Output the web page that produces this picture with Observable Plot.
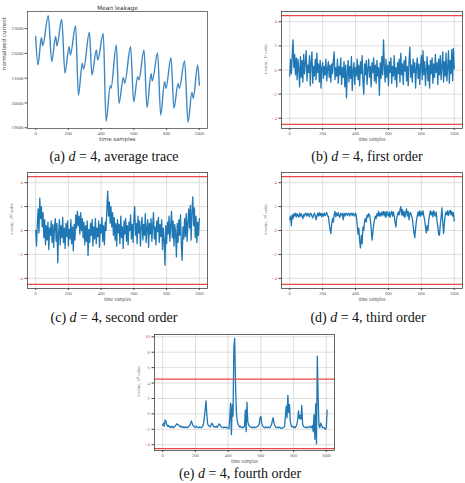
<!DOCTYPE html>
<html><head><meta charset="utf-8">
<script src="https://cdn.jsdelivr.net/npm/d3@7"></script>
<script src="https://cdn.jsdelivr.net/npm/@observablehq/plot@0.6"></script>
<style>
html,body{margin:0;padding:0;background:#fff;}
#fig{position:relative;width:465px;height:483px;overflow:hidden;background:#fff;}
.cap{position:absolute;width:240px;text-align:center;font-family:"Liberation Serif","DejaVu Serif",serif;font-size:14px;line-height:16px;color:#111;white-space:nowrap;}
</style></head><body><div id="fig"></div>
<script>
// ---------- data ----------
const xTicks = [0, 200, 400, 600, 800, 1000];
const tTicks = [-4, -2, 0, 2, 4];
const eTicks = [-4, -2, 0, 2, 4, 6, 8, 10];
const aTicks = [19000, 20000, 21000, 22000, 23000];
const thresholds = [4.5, -4.5];
const step = 5; // sample spacing of the t-value series below

// (a) mean leakage: extrema of the averaged trace
const aSamples = [0,14,35,43,77,98,122,130,159,179,204,212,244,261,285,293,328,344,371,379,413,430,456,460,493,509,536,544,580,599,623,631,662,680,705,713,745,764,788,796,827,845,870,878,910,931,955,963,990,1000];
const aCurrent = [22680,21530,22640,22310,23525,21670,22680,22310,23380,21200,22270,21940,23120,20320,21600,21360,22850,21130,22140,21730,22800,19270,20700,20590,22340,19980,21030,20790,22270,20050,21060,20930,22140,19810,21180,20890,22030,19510,20860,20590,21830,19780,20790,20590,21710,19220,20430,20190,21520,20720];

// (b) first order t-values
const tFirst = [-0.5,0.9,-0.3,1.2,2.5,0.2,1.3,-0.4,1.0,-0.8,0.9,0.1,-1.4,1.1,-0.6,0.8,-1.0,1.3,-0.3,0.6,
1.6,-0.9,0.4,-0.2,1.2,-1.3,0.7,1.5,-1.1,0.3,-0.5,0.9,-0.8,1.4,-0.2,0.5,-1.0,0.8,-1.5,0.2,
0.6,-0.7,0.3,-0.4,0.9,-0.9,0.1,0.7,-0.6,0.4,-1.0,0.5,-0.3,0.8,1.5,-0.8,0.2,-0.5,0.9,-1.1,
0.3,-0.4,1.0,-1.2,0.2,-0.6,0.7,-1.4,0.4,-2.3,-0.2,0.8,-1.0,0.3,-0.7,1.1,-1.7,0.0,0.6,-1.2,
0.2,-0.5,0.9,-0.8,0.4,-1.3,0.7,-0.3,1.2,-1.0,-2.0,0.5,-0.4,0.8,-1.2,0.1,0.9,-0.6,0.3,-1.4,
0.6,-0.2,1.0,-0.9,0.4,-1.1,0.8,-0.5,0.2,-2.1,0.6,-0.7,1.1,-0.4,2.5,0.3,-1.0,0.9,-0.6,0.4,
-1.3,0.7,-0.2,1.0,-1.1,0.3,-0.5,1.2,-0.8,0.2,-1.4,0.6,-0.3,0.9,-1.0,1.4,-0.4,0.5,-1.2,0.8,
-0.1,1.1,-0.9,0.3,-1.3,0.7,1.9,-0.6,0.4,-1.0,0.9,-0.2,0.6,-1.5,0.2,1.0,-0.7,0.5,-1.2,0.3,
1.2,-0.8,1.6,-0.4,0.7,-1.3,0.1,1.1,-0.9,0.4,-1.5,0.8,-0.3,1.0,-1.1,0.5,-0.6,1.3,-0.2,0.6,
-1.2,0.9,-0.4,1.2,-0.8,0.3,1.5,-1.0,0.7,-0.5,1.4,-0.9,0.2,1.6,-1.1,0.8,-0.3,1.7,-0.9,1.8,0.1];

// (c) second order t-values
const tSecond = [0.0,-1.3,0.5,1.8,-0.2,2.7,1.0,2.0,0.3,1.5,-0.6,0.9,-1.2,0.4,-0.8,0.7,-1.6,0.2,-0.4,0.8,
-1.0,0.5,-1.4,0.3,1.0,-0.9,0.6,-2.7,-0.3,0.9,-1.2,0.4,-0.6,1.1,-1.0,0.2,-1.5,0.6,-0.5,0.8,
-1.3,0.1,-0.7,0.9,-1.1,0.3,-1.7,0.5,-0.8,1.3,0.2,1.6,0.4,1.2,-0.3,1.5,0.0,1.0,-0.6,0.7,
-1.2,0.4,-0.9,0.8,-2.1,0.1,-1.0,0.6,-0.4,0.9,-1.3,0.3,-0.7,1.0,-1.1,0.2,-0.5,0.8,-1.4,0.5,
-0.2,1.1,-0.9,0.4,-1.2,0.7,0.0,1.8,3.3,1.2,2.4,0.6,2.0,0.3,1.5,-0.4,1.1,-0.8,0.6,-1.3,
0.9,-0.2,0.5,-1.1,1.2,-0.6,0.3,-1.5,0.8,-0.3,1.0,-0.9,0.4,-1.2,0.7,0.0,1.3,-0.7,0.5,-1.0,
0.9,2.0,-0.4,0.6,-1.1,1.2,-0.2,0.8,-1.3,0.3,1.1,-0.8,0.5,-0.4,1.4,-1.0,0.2,0.9,-1.4,0.6,
-0.3,1.0,-0.9,0.4,1.5,-0.7,0.3,-1.2,0.8,-0.1,1.1,-1.0,0.5,-0.5,0.9,-1.6,0.2,-0.8,-2.9,0.4,
-1.1,0.7,-0.3,1.2,-0.9,0.4,1.6,-0.6,0.8,-1.3,0.5,-0.2,-2.2,0.6,-1.0,0.9,-0.4,1.3,-1.2,-2.5,
0.3,-0.7,1.0,-0.5,1.4,-0.9,0.6,1.8,0.2,2.1,-0.8,1.6,2.8,0.4,1.9,-0.6,1.2,-1.0,0.7,-0.4,1.0];

// (d) third order t-values
const tThird = [0.9,1.2,0.4,1.3,1.0,1.4,1.2,1.45,1.15,1.4,1.25,1.1,1.45,1.2,1.4,1.15,1.0,1.35,1.2,1.45,
1.4,1.2,1.45,1.3,1.15,1.45,1.4,1.2,1.05,1.3,1.45,1.25,0.9,1.2,1.45,1.2,1.5,1.25,1.45,1.15,
1.4,1.2,1.45,1.25,1.4,1.5,1.2,1.2,0.6,0.1,-0.25,0.5,1.0,0.7,1.3,1.6,1.15,1.45,1.25,1.5,
1.2,1.1,1.45,1.3,1.4,0.9,1.45,1.2,1.4,1.45,1.25,1.4,1.45,1.2,1.4,1.45,1.25,1.45,1.3,1.2,
1.45,1.2,0.5,-0.3,0.2,-0.9,-1.45,-0.4,-1.1,0.3,0.0,0.8,1.0,0.7,1.3,1.1,1.4,1.3,0.9,0.2,
-0.8,-0.2,0.5,0.9,1.2,1.0,1.4,1.2,1.6,1.2,1.45,1.2,1.55,1.3,1.6,1.2,1.55,1.1,1.6,1.35,
1.2,1.55,1.1,1.45,1.6,1.2,1.55,1.2,0.7,0.3,1.0,1.3,1.55,1.3,1.7,2.0,1.3,1.75,1.2,1.6,
1.1,1.5,1.8,1.2,1.6,0.9,1.45,1.5,1.2,1.0,0.4,-0.2,-0.6,0.2,0.8,1.2,1.55,1.2,1.65,1.2,
1.55,1.3,1.65,1.2,0.9,0.3,-0.2,0.4,0.0,0.9,1.3,1.65,1.3,1.55,1.15,1.65,1.35,1.2,1.55,0.8,
0.3,-0.3,-0.4,0.5,1.1,1.9,0.7,-0.25,0.6,1.3,1.55,1.3,1.65,1.25,1.55,1.7,1.3,1.6,1.2,1.5,0.8];

// (e) fourth order t-values
const tFourth = [-1.5,-1.2,-1.6,-0.8,-1.0,-1.4,-1.6,-1.5,-1.7,-1.6,-1.8,-1.7,-1.6,-1.8,-1.7,-1.6,-1.5,-1.3,-1.35,-1.4,
-1.5,-1.6,-1.7,-1.6,-1.75,-1.7,-1.8,-1.7,-1.75,-1.7,-1.8,-1.75,-1.6,-1.5,-1.3,-0.9,-1.2,-1.5,-1.6,-1.7,
-1.75,-1.6,-1.7,-1.75,-1.8,-1.7,-1.75,-1.8,-1.7,-1.6,-1.2,-0.4,0.6,1.7,-0.2,-1.3,-1.5,-1.6,-1.7,-1.5,
-1.2,-1.4,-1.6,-1.7,-1.65,-1.75,-1.6,-1.7,-1.5,-1.3,-1.4,-1.6,-1.7,-1.75,-1.8,-1.7,-1.75,-1.8,-1.7,-1.8,
-1.85,-1.9,-0.5,1.4,-2.7,1.2,-0.3,8.5,9.8,4.0,0.3,-0.8,-1.3,-1.5,-1.7,-1.6,-1.75,-1.8,-1.7,-1.75,
-1.6,0.5,-2.3,1.5,-1.0,-1.4,-1.6,-1.7,-1.75,-1.7,-1.8,-1.75,-1.7,-1.8,-1.75,-1.7,-1.6,-1.5,-1.3,-0.5,
-0.3,-1.2,-1.5,-1.7,-1.75,-1.8,-1.7,-1.75,-1.8,-1.7,-1.75,-1.8,-1.6,-1.4,-0.9,-0.5,-1.2,-1.5,-1.7,-1.8,
-1.75,-1.7,-1.8,-1.75,-1.8,-1.9,-1.85,-1.8,-1.75,-1.6,-0.3,1.0,-0.5,2.4,0.2,1.2,-1.0,-1.5,-1.7,-1.6,
-1.75,-1.7,-1.8,-1.6,-1.4,-0.8,0.4,-0.6,-0.2,-0.7,1.1,-1.3,-1.6,-1.7,-1.75,-1.8,-1.7,-1.75,-1.8,-1.7,
-1.6,-1.75,-1.8,-1.5,-2.3,-0.1,-3.3,1.3,-3.9,7.5,2.2,-1.5,-1.8,-1.2,-1.4,-1.7,-1.8,-1.75,-1.9,-2.0,-1.8,0.5];

// ---------- drawing ----------
const fig = document.getElementById("fig");
const blue = "#1f77b4", red = "#e8474a", gridC = "#c9c9c9";
const serif = "'Liberation Serif','DejaVu Serif',serif";
const sans = "'DejaVu Sans','Liberation Sans',sans-serif";
const xDomain = [-50, 1050];
const fmt = d => d < 0 ? "\u2212" + Math.abs(d) : String(d);

function place(svg, left, top) {
  svg.style.position = "absolute";
  svg.style.left = left + "px";
  svg.style.top = top + "px";
  fig.appendChild(svg);
}

// panel (a)
{
  const rows = aSamples.map((s, i) => ({s, c: aCurrent[i]}));
  const p = Plot.plot({
    width: 215, height: 148,
    marginLeft: 27, marginRight: 8, marginTop: 11, marginBottom: 20,
    x: {domain: xDomain, axis: null},
    y: {domain: [18970, 23690], axis: null},
    style: {fontFamily: serif, background: "transparent", overflow: "visible"},
    marks: [
      Plot.line(rows, {x: "s", y: "c", stroke: "#3d87c2", strokeWidth: 1.4, curve: "monotone-x"}),
      Plot.frame({stroke: "#555", strokeWidth: 0.8}),
      Plot.axisX({ticks: xTicks, tickSize: 2, tickPadding: 1, fontSize: 4.8, fill: "#555", stroke: "#555", tickFormat: d => String(d), label: null}),
      Plot.axisY({ticks: aTicks, tickSize: 2.5, tickPadding: 1.5, fontSize: 4.8, fill: "#555", stroke: "#555", tickFormat: d => String(d), label: null}),
      Plot.text(["Mean leakage"], {frameAnchor: "top", dy: -5.5, fontSize: 5.8, fontFamily: sans, fill: "#333"}),
      Plot.text(["time samples"], {frameAnchor: "bottom", dy: 12.3, fontSize: 5.4, fontFamily: sans, fill: "#444"}),
      Plot.text(["normalized current"], {frameAnchor: "left", rotate: -90, dx: -23, fontSize: 5.6, fontFamily: sans, fill: "#444"})
    ]
  });
  place(p, 0, 0);
}

function tPanel(values, left, top, width, height, m, yDomain, yTicks, ylabel) {
  const rows = values.map((v, i) => ({t: i * step, v}));
  const p = Plot.plot({
    width, height,
    marginLeft: m[0], marginRight: m[1], marginTop: m[2], marginBottom: m[3],
    x: {domain: xDomain, axis: null},
    y: {domain: yDomain, axis: null},
    style: {fontFamily: serif, background: "transparent", overflow: "visible"},
    marks: [
      Plot.ruleX(xTicks, {stroke: gridC, strokeWidth: 0.6}),
      Plot.ruleY(yTicks, {stroke: gridC, strokeWidth: 0.6}),
      Plot.line(rows, {x: "t", y: "v", stroke: blue, strokeWidth: 1.3, clip: true}),
      Plot.ruleY(thresholds, {stroke: red, strokeWidth: 1.3}),
      Plot.frame({stroke: "#444", strokeWidth: 0.8}),
      Plot.axisX({ticks: xTicks, tickSize: 2, tickPadding: 1.5, fontSize: 4.6, fill: "#666", stroke: "#444", tickFormat: d => String(d), label: null}),
      Plot.axisY({ticks: yTicks, tickSize: 2.5, tickPadding: 2, fontSize: 4.8, fill: "#d05a5a", stroke: "#444", tickFormat: fmt, label: null}),
      Plot.text(["time samples"], {frameAnchor: "bottom", dy: 12.5, fontSize: 5.2, fill: "#666"}),
      Plot.text([ylabel], {frameAnchor: "left", rotate: -90, dx: -15.5, dy: 4, fontSize: 4.6, fill: "#777"})
    ]
  });
  place(p, left, top);
}

tPanel(tFirst, 235, 0, 230, 148, [46, 3, 11, 20], [-4.85, 4.85], tTicks, "t-value, 1\u02E2\u1D57 order");
tPanel(tSecond, 0, 160, 215, 148, [27, 8, 12, 20], [-4.85, 4.85], tTicks, "t-value, 2\u207F\u1D48 order");
tPanel(tThird, 235, 160, 230, 148, [46, 3, 12, 20], [-4.85, 4.85], tTicks, "t-value, 3\u02B3\u1D48 order");
tPanel(tFourth, 110, 320, 230, 148, [44, 6, 14, 18], [-4.75, 10.3], eTicks, "t-value, 4\u1D57\u02B0 order");

// captions
const caps = [
  ["(a) ", ", average trace", 114, 157],
  ["(b) ", ", first order", 367, 157],
  ["(c) ", ", second order", 114, 318],
  ["(d) ", ", third order", 368, 318],
  ["(e) ", ", fourth order", 240, 474]
];
for (const [pre, post, cx, cy] of caps) {
  const d = document.createElement("div");
  d.className = "cap";
  d.style.left = (cx - 120) + "px";
  d.style.top = (cy - 8) + "px";
  d.innerHTML = pre + "<i>d</i> = 4" + post;
  fig.appendChild(d);
}
</script></body></html>
